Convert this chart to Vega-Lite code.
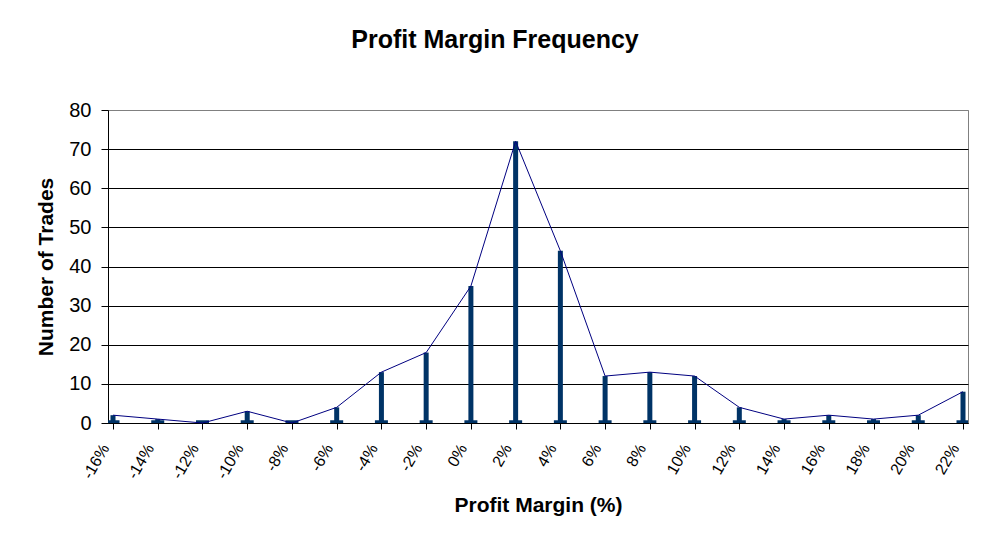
{
  "$schema": "https://vega.github.io/schema/vega-lite/v6.json",
  "autosize": {"type": "none"},
  "width": 860,
  "height": 313,
  "padding": {"left": 108, "top": 110, "right": 25, "bottom": 127},
  "background": "white",
  "title": {
    "text": "Profit Margin Frequency",
    "font": "Liberation Sans",
    "fontSize": 25,
    "fontWeight": "bold",
    "color": "black",
    "anchor": "middle",
    "baseline": "alphabetic",
    "dx": -43,
    "offset": 27
  },
  "data": {
    "values": [
      {"margin": -16, "trades": 2},
      {"margin": -14, "trades": 1},
      {"margin": -12, "trades": 0},
      {"margin": -10, "trades": 3},
      {"margin": -8, "trades": 0},
      {"margin": -6, "trades": 4},
      {"margin": -4, "trades": 13},
      {"margin": -2, "trades": 18},
      {"margin": 0, "trades": 35},
      {"margin": 2, "trades": 72},
      {"margin": 4, "trades": 44},
      {"margin": 6, "trades": 12},
      {"margin": 8, "trades": 13},
      {"margin": 10, "trades": 12},
      {"margin": 12, "trades": 4},
      {"margin": 14, "trades": 1},
      {"margin": 16, "trades": 2},
      {"margin": 18, "trades": 1},
      {"margin": 20, "trades": 2},
      {"margin": 22, "trades": 8}
    ]
  },
  "encoding": {
    "x": {
      "field": "margin",
      "type": "quantitative",
      "scale": {"domain": [-16, 22], "nice": false, "zero": false},
      "axis": {
        "title": "Profit Margin (%)",
        "values": [-16, -14, -12, -10, -8, -6, -4, -2, 0, 2, 4, 6, 8, 10, 12, 14, 16, 18, 20, 22],
        "labelExpr": "datum.value + '%'",
        "labelAngle": -60,
        "labelFont": "Liberation Sans",
        "labelFontSize": 16,
        "labelColor": "black",
        "labelPadding": 16,
        "labelOffset": -8,
        "labelOverlap": false,
        "labelFlush": false,
        "grid": false,
        "tickSize": 6,
        "tickColor": "black",
        "domainColor": "black",
        "titleFont": "Liberation Sans",
        "titleFontSize": 21,
        "titleFontWeight": "bold",
        "titleColor": "black",
        "titlePadding": 13
      }
    },
    "y": {
      "field": "trades",
      "type": "quantitative",
      "scale": {"domain": [0, 80], "nice": false},
      "axis": {
        "title": "Number of Trades",
        "values": [0, 10, 20, 30, 40, 50, 60, 70, 80],
        "labelFont": "Liberation Sans",
        "labelFontSize": 20,
        "labelColor": "black",
        "labelPadding": 10,
        "tickSize": 7,
        "tickColor": "black",
        "domainColor": "black",
        "grid": true,
        "gridColor": {"condition": {"test": "datum.value == 80", "value": "#808080"}, "value": "black"},
        "gridOpacity": 1,
        "titleFont": "Liberation Sans",
        "titleFontSize": 21,
        "titleFontWeight": "bold",
        "titleColor": "black",
        "titlePadding": 12
      }
    }
  },
  "layer": [
    {
      "mark": {"type": "bar", "color": "#003366", "size": 5, "clip": true}
    },
    {
      "mark": {"type": "bar", "color": "#003366", "size": 13, "clip": true},
      "encoding": {
        "y": {"datum": 0},
        "y2": {"datum": 0.7}
      }
    },
    {
      "mark": {"type": "line", "color": "#000080", "strokeWidth": 1}
    }
  ],
  "config": {
    "view": {"stroke": "#808080", "strokeWidth": 1}
  }
}
